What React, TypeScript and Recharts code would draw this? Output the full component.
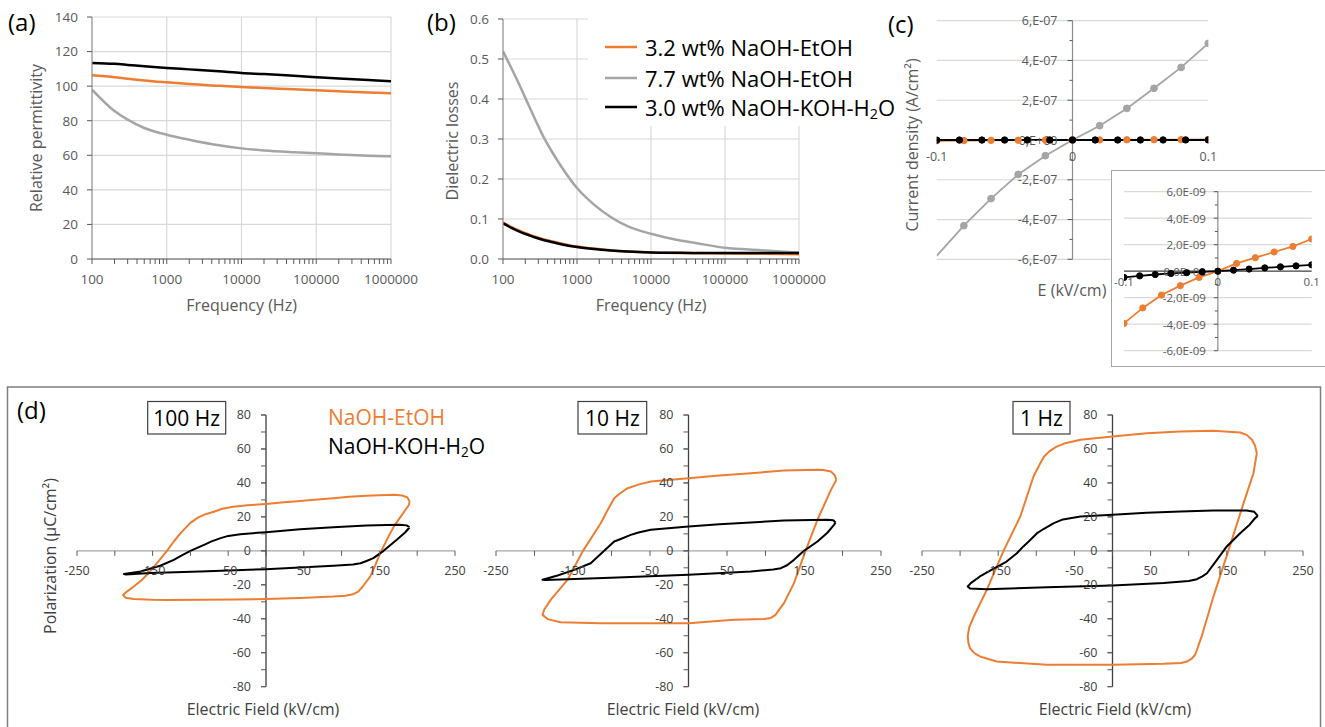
import React from 'react';
import { LineChart, Line, XAxis, YAxis, CartesianGrid, ReferenceLine, ReferenceDot } from 'recharts';

const FONT = "'Open Sans', 'DejaVu Sans', sans-serif";
const ORANGE = '#ED7D31';
const GRAY = '#A5A5A5';
const BLACK = '#000000';
const TICK = '#595959';
const TITLE = '#595959';
const GRID = '#D9D9D9';

// Series names
const seriesNames = ['3.2 wt% NaOH-EtOH', '7.7 wt% NaOH-EtOH', '3.0 wt% NaOH-KOH-H'];

// (a) relative permittivity vs frequency
const freqA = [100, 200, 300, 500, 1000, 2000, 5000, 10000, 20000, 50000, 100000, 200000, 500000, 1000000];
const permEtOH32 = [106.3, 105.2, 104.3, 103.3, 102.2, 101.2, 100.2, 99.5, 98.9, 98.2, 97.6, 97.0, 96.3, 95.9];
const permEtOH77 = [98.0, 85.6, 80.6, 75.8, 71.9, 69.0, 65.8, 64.0, 62.8, 61.8, 61.2, 60.5, 59.8, 59.4];
const permKOHH2O = [113.4, 112.9, 112.3, 111.5, 110.5, 109.7, 108.6, 107.6, 107.0, 106.0, 105.2, 104.4, 103.5, 102.8];
const permTicks = [0, 20, 40, 60, 80, 100, 120, 140];

// (b) dielectric losses vs frequency
const freqB = [100, 130, 170, 220, 280, 360, 470, 610, 1000, 1700, 2850, 4800, 10000, 22000, 40000, 100000, 300000, 1000000];
const lossEtOH32 = [0.091, 0.080, 0.070, 0.062, 0.055, 0.049, 0.044, 0.039, 0.031, 0.026, 0.022, 0.019, 0.0165, 0.015, 0.0145, 0.014, 0.013, 0.012];
const lossEtOH77 = [0.519, 0.477, 0.432, 0.386, 0.344, 0.302, 0.265, 0.232, 0.1775, 0.136, 0.105, 0.082, 0.063, 0.048, 0.040, 0.028, 0.022, 0.016];
const lossKOHH2O = [0.089, 0.078, 0.068, 0.060, 0.053, 0.047, 0.042, 0.037, 0.030, 0.025, 0.0215, 0.019, 0.0165, 0.0155, 0.015, 0.015, 0.015, 0.015];
const lossTicks = [0, 0.1, 0.2, 0.3, 0.4, 0.5, 0.6];

// frequency axis ticks (log scale, decades labelled)
const decades = [100, 1000, 10000, 100000, 1000000];
const freqTicks = [100, 1000, 10000, 100000]
  .flatMap((d) => [1, 2, 3, 4, 5, 6, 7, 8, 9].map((k) => k * d))
  .concat(1000000);

// (c) current density vs field
const fieldStep02 = [-0.1, -0.08, -0.06, -0.04, -0.02, 0, 0.02, 0.04, 0.06, 0.08, 0.1];
const fieldStep60 = [-0.1, -0.0833, -0.0667, -0.05, -0.0333, -0.0167, 0, 0.0167, 0.0333, 0.05, 0.0667, 0.0833, 0.1];
const jEtOH77 = [-5.83e-7, -4.31e-7, -2.95e-7, -1.73e-7, -0.79e-7, 0, 0.72e-7, 1.59e-7, 2.6e-7, 3.65e-7, 4.86e-7];
const jEtOH32 = [-3.94e-9, -2.77e-9, -1.8e-9, -1.09e-9, -0.47e-9, 0, 0.59e-9, 1.02e-9, 1.45e-9, 1.87e-9, 2.43e-9];
const jKOHH2O = [-0.47e-9, -0.35e-9, -0.25e-9, -0.17e-9, -0.11e-9, -0.05e-9, 0, 0.08e-9, 0.16e-9, 0.25e-9, 0.33e-9, 0.4e-9, 0.48e-9];

const cTickValues = [-6e-7, -4e-7, -2e-7, 0, 2e-7, 4e-7, 6e-7];
const cTickLabels = ['-6,E-07', '-4,E-07', '-2,E-07', '0,E+00', '2,E-07', '4,E-07', '6,E-07'];
const cMinorTicks = [-5e-7, -3e-7, -1e-7, 1e-7, 3e-7, 5e-7];
const insetTickValues = [-6e-9, -4e-9, -2e-9, 0, 2e-9, 4e-9, 6e-9];
const insetTickLabels = ['-6,0E-09', '-4,0E-09', '-2,0E-09', '0,0E+00', '2,0E-09', '4,0E-09', '6,0E-09'];
const insetMinorTicks = [-5e-9, -3e-9, -1e-9, 1e-9, 3e-9, 5e-9];
const fieldTickValues = [-0.1, 0, 0.1];
const fieldTickLabels = ['-0.1', '0', '0.1'];

// (d) P-E hysteresis loops [E (kV/cm), P (µC/cm²)]
const loopEtOH100Hz = [
  [190, 29], [187, 31.5], [180, 32.6], [170, 33], [150, 32.8], [133, 32.4], [110, 31.8], [89, 31], [60, 30], [45, 29.4],
  [20, 28.4], [0, 27.6], [-25, 26.8], [-43, 26], [-58, 24.8], [-69, 23], [-80, 21.6], [-90, 19.6], [-100, 16.5], [-113, 10.4],
  [-122, 5.5], [-131, 0], [-142, -6], [-153, -12], [-165, -17.5], [-175, -21], [-184, -24], [-189, -26], [-186, -27.6],
  [-175, -28.4], [-150, -28.8], [-131, -28.9], [-87, -28.8], [-40, -28.6], [0, -28.4], [45, -27.8], [89, -26.9], [105, -26.4],
  [115, -25.6], [122, -24], [128, -21], [138, -15], [145, -8], [151, -1.4], [162, 8.4], [170, 15], [178, 20], [185, 24.5],
  [189, 27], [190, 29],
];
const loopKOH100Hz = [
  [190, 13.9], [186, 15], [177, 15.4], [160, 15.2], [133, 14.9], [89, 13.9], [45, 12.7], [0, 11], [-34, 9.8], [-50, 8.8],
  [-60, 7.5], [-72, 5.6], [-82, 3.5], [-100, 0], [-112, -2.8], [-122, -5.3], [-140, -8.8], [-166, -12.2], [-188, -13.7],
  [-185, -13.9], [-153, -13.1], [-87, -12.2], [0, -10.8], [89, -8.8], [115, -8], [125, -7.3], [133, -6], [142, -4.3],
  [155.5, 0], [173, 6.5], [184, 10.8], [190, 13.9],
];
const loopEtOH10Hz = [
  [192, 41.8], [190, 44.5], [185, 46.7], [175, 47.6], [167.5, 47.7], [124, 47.3], [81, 45.7], [40, 44.3], [0, 42.8],
  [-49, 40.8], [-65, 39], [-79, 36.9], [-90, 33.5], [-96.5, 31], [-105, 24], [-114, 16.3], [-137, 0], [-157, -17],
  [-179, -28.9], [-187.5, -34.7], [-189.6, -37.7], [-183, -40.2], [-166, -42], [-114, -42.6], [0, -42.6], [59, -40.6],
  [98, -40.2], [107, -39.5], [113, -37.7], [118, -34.5], [124, -30.8], [137, -19], [152, 0], [167.5, 18.3], [185, 35.9],
  [192, 41.8],
];
const loopKOH10Hz = [
  [191, 16.7], [188, 18], [180.5, 18.3], [160, 18.2], [124, 17.9], [81, 16.7], [40, 15.6], [0, 14.3], [-49, 12.4],
  [-65, 10.8], [-75, 9.4], [-88, 7], [-96.5, 5.5], [-109.5, 0], [-127, -7.3], [-148.5, -11.2], [-170, -14.5],
  [-189.6, -17], [-186, -17.2], [-157, -16.7], [-92, -15.7], [0, -14.1], [81, -12.2], [110, -11], [120, -10.2],
  [128, -8.5], [137, -5.3], [150, 0], [167.5, 5.5], [180, 10.5], [189, 15.3], [191, 16.7],
];
const loopEtOH1Hz = [
  [189.4, 57.5], [187, 62], [183, 65.4], [176, 68.3], [167.5, 69.7], [132.5, 70.7], [89, 70.3], [45, 69.3], [0, 67.3],
  [-42, 65.4], [-62, 63.4], [-74, 61.2], [-83, 58.6], [-90, 55.4], [-96, 50.6], [-103.7, 43.8], [-121, 20.2], [-143, 0],
  [-165, -23], [-182, -38.7], [-188, -45], [-190, -50.4], [-189, -54.5], [-187, -57.3], [-182, -60], [-174, -62.2],
  [-152, -65.2], [-86, -67.1], [0, -67.1], [67, -66.5], [90, -66], [97.5, -65.2], [104, -63.5], [108.5, -61.2],
  [117, -50.4], [132.5, -26.9], [152, 0], [172, 28.1], [185, 45.7], [189.4, 57.5],
];
const loopKOH1Hz = [
  [190.7, 20.6], [186, 23], [176, 23.8], [132.5, 23.8], [89, 23.2], [45, 22.4], [0, 21.2], [-42, 20.2], [-65, 18.5],
  [-77, 16.3], [-90, 13], [-99, 10.4], [-110, 5.5], [-117, 2.6], [-125.5, -1.4], [-139, -6.3], [-160, -11.5],
  [-174, -15.1], [-186, -19], [-190, -21], [-187, -22.2], [-165, -22.6], [-86, -21.4], [0, -20.4], [67, -19],
  [100, -17.8], [110.7, -16.7], [118, -15], [124, -13.2], [137, -5.3], [150, 2.6], [167.5, 10.4], [180, 15.4],
  [187, 19.2], [190.7, 20.6],
];
const fieldTicksD = [-250, -200, -150, -100, -50, 0, 50, 100, 150, 200, 250];
const fieldLabelsD = [-250, -150, -50, 50, 150, 250];
const polTicksD = [-80, -70, -60, -50, -40, -30, -20, -10, 0, 10, 20, 30, 40, 50, 60, 70, 80];
const polLabelsD = [-80, -60, -40, -20, 0, 20, 40, 60, 80];

const toPts = (arr: number[][]) => arr.map(([e, p]) => ({ e, p }));

const dataA = freqA.map((f, i) => ({ f, o: permEtOH32[i], g: permEtOH77[i], k: permKOHH2O[i] }));
const dataB = freqB.map((f, i) => ({ f, o: lossEtOH32[i], g: lossEtOH77[i], k: lossKOHH2O[i] }));

function FreqTick(props: any) {
  const { x, y, payload } = props;
  const isDecade = decades.includes(payload.value);
  return (
    <g>
      <line x1={x} x2={x} y1={y} y2={y + 5} stroke="#595959" strokeWidth={1} />
      {isDecade && (
        <text x={x} y={y + 20} textAnchor="middle" dominantBaseline="central" fill={TICK} fontSize={13.5} fontFamily={FONT}>
          {payload.value}
        </text>
      )}
    </g>
  );
}

function FreqChart({ left, width, plotLeft, plotRight, top, data, yDomain, yTicks, fmt }: any) {
  return (
    <div style={{ position: 'absolute', left, top: 0 }}>
      <LineChart width={width} height={320} data={data} margin={{ top, right: width - plotRight, bottom: 0, left: 0 }}>
        <CartesianGrid vertical={false} stroke={GRID} strokeWidth={1.2} />
        {decades.slice(1).map((v) => (
          <ReferenceLine key={v} x={v} stroke={GRID} strokeWidth={1.2} />
        ))}
        <XAxis
          dataKey="f"
          type="number"
          scale="log"
          domain={[100, 1000000]}
          ticks={freqTicks}
          interval={0}
          height={61}
          tickSize={0}
          tickMargin={0}
          tickLine={false}
          axisLine={{ stroke: '#595959', strokeWidth: 1.2 }}
          tick={(p: any) => <FreqTick {...p} />}
          allowDataOverflow
        />
        <YAxis
          type="number"
          domain={yDomain}
          ticks={yTicks}
          interval={0}
          width={plotLeft}
          tickSize={5}
          tickMargin={9}
          tickFormatter={fmt}
          axisLine={{ stroke: '#8c8c8c', strokeWidth: 1.2 }}
          tickLine={{ stroke: '#595959' }}
          tick={{ fill: TICK, fontSize: 13.5, fontFamily: FONT }}
        />
        <Line dataKey="g" type="monotone" stroke={GRAY} strokeWidth={2.5} dot={false} isAnimationActive={false} />
        <Line dataKey="o" type="monotone" stroke={ORANGE} strokeWidth={2.5} dot={false} isAnimationActive={false} />
        <Line dataKey="k" type="monotone" stroke={BLACK} strokeWidth={2.5} dot={false} isAnimationActive={false} />
      </LineChart>
    </div>
  );
}

function yTickDots(values: number[], labels: string[] | null, len: number, gap: number, size: number, color: string) {
  return values.map((v, i) => (
    <ReferenceDot
      key={'yt' + v + len}
      x={0}
      y={v}
      ifOverflow="visible"
      shape={(p: any) => (
        <g>
          <line x1={p.cx - len} x2={p.cx} y1={p.cy} y2={p.cy} stroke="#595959" strokeWidth={1} />
          {labels && (
            <text x={p.cx - gap} y={p.cy} textAnchor="end" dominantBaseline="central" fill={color} fontSize={size} fontFamily={FONT}>
              {labels[i]}
            </text>
          )}
        </g>
      )}
    />
  ));
}

function xTickDots(values: number[], labels: string[], dy: number, size: number, color: string) {
  return values.map((v, i) => (
    <ReferenceDot
      key={'xt' + v}
      x={v}
      y={0}
      ifOverflow="visible"
      shape={(p: any) => (
        <text x={p.cx} y={p.cy + dy} textAnchor="middle" dominantBaseline="central" fill={color} fontSize={size} fontFamily={FONT}>
          {labels[i]}
        </text>
      )}
    />
  ));
}

const dotFn = (color: string, r: number, skipFirst: boolean) => (p: any) =>
  skipFirst && p.index === 0 ? (
    <g key={'d' + p.index} />
  ) : (
    <circle key={'d' + p.index} cx={p.cx} cy={p.cy} r={r} fill={color} stroke={color} strokeWidth={1} />
  );

function CurrentChart() {
  const gray = fieldStep02.map((e, i) => ({ e, j: jEtOH77[i] }));
  const orange = fieldStep02.map((e, i) => ({ e, j: jEtOH32[i] }));
  const black = fieldStep60.map((e, i) => ({ e, j: jKOHH2O[i] }));
  return (
    <div style={{ position: 'absolute', left: 900, top: 0 }}>
      <LineChart width={330} height={290} margin={{ top: 20.7, right: 21.7, bottom: 30.7, left: 36.7 }}>
        <XAxis type="number" dataKey="e" domain={[-0.1, 0.1]} hide allowDataOverflow />
        <YAxis type="number" dataKey="j" domain={[-6e-7, 6e-7]} hide allowDataOverflow />
        {cTickValues.filter((v) => v !== 0).map((v) => (
          <ReferenceLine key={'g' + v} y={v} stroke={GRID} strokeWidth={1.2} />
        ))}
        <ReferenceLine x={0} stroke="#8c8c8c" strokeWidth={1.2} />
        <ReferenceLine y={0} stroke="#404040" strokeWidth={1.2} />
        {yTickDots(cMinorTicks, null, 3, 0, 0, TICK)}
        {yTickDots(cTickValues, cTickLabels, 5, 15, 12.5, TICK)}
        {xTickDots(fieldTickValues, fieldTickLabels, 16, 12.5, TICK)}
        <Line data={gray} dataKey="j" type="linear" stroke={GRAY} strokeWidth={1.8} dot={dotFn(GRAY, 3.4, true)} isAnimationActive={false} />
        <Line data={orange} dataKey="j" type="linear" stroke={ORANGE} strokeWidth={1.8} dot={dotFn(ORANGE, 3.2, false)} isAnimationActive={false} />
        <Line data={black} dataKey="j" type="linear" stroke={BLACK} strokeWidth={2} dot={dotFn(BLACK, 3.2, false)} isAnimationActive={false} />
      </LineChart>
    </div>
  );
}

function InsetChart() {
  const orange = fieldStep02.map((e, i) => ({ e, j: jEtOH32[i] }));
  const black = fieldStep60.map((e, i) => ({ e, j: jKOHH2O[i] }));
  return (
    <div
      style={{
        position: 'absolute',
        left: 1111,
        top: 170,
        width: 220,
        height: 197,
        boxSizing: 'border-box',
        background: '#fff',
        border: '1.3px solid #a6a6a6',
      }}
    >
      <div style={{ position: 'absolute', left: -1, top: -1 }}>
        <LineChart width={214} height={197} margin={{ top: 21.7, right: 13.3, bottom: 16.3, left: 13 }}>
          <XAxis type="number" dataKey="e" domain={[-0.1, 0.1]} hide allowDataOverflow />
          <YAxis type="number" dataKey="j" domain={[-6e-9, 6e-9]} hide allowDataOverflow />
          {insetTickValues.filter((v) => v !== 0).map((v) => (
            <ReferenceLine key={'g' + v} y={v} stroke={GRID} strokeWidth={1.2} />
          ))}
          <ReferenceLine x={0} stroke="#8c8c8c" strokeWidth={1.2} />
          <ReferenceLine y={0} stroke="#404040" strokeWidth={1.2} />
          {yTickDots(insetMinorTicks, null, 3, 0, 0, TICK)}
          {yTickDots(insetTickValues, insetTickLabels, 4, 12, 11.5, TICK)}
          {xTickDots(fieldTickValues, fieldTickLabels, 10, 11.5, TICK)}
          <Line data={orange} dataKey="j" type="linear" stroke={ORANGE} strokeWidth={1.8} dot={dotFn(ORANGE, 3.1, false)} isAnimationActive={false} />
          <Line data={black} dataKey="j" type="linear" stroke={BLACK} strokeWidth={1.8} dot={dotFn(BLACK, 3.1, false)} isAnimationActive={false} />
        </LineChart>
      </div>
    </div>
  );
}

function LoopChart({ px0, px1, etoh, koh }: any) {
  const pyTop = 415;
  const pyBot = 686.7;
  const padX = 40;
  const padY = 22;
  const w = px1 - px0 + 2 * padX;
  const h = pyBot - pyTop + 2 * padY;
  return (
    <div style={{ position: 'absolute', left: px0 - padX, top: pyTop - padY }}>
      <LineChart width={w} height={h} margin={{ top: padY, right: padX, bottom: padY, left: padX }}>
        <XAxis type="number" dataKey="e" domain={[-250, 250]} hide allowDataOverflow />
        <YAxis type="number" dataKey="p" domain={[-80, 80]} hide allowDataOverflow />
        <ReferenceLine y={0} stroke="#a6a6a6" strokeWidth={1.3} />
        <ReferenceLine x={0} stroke="#404040" strokeWidth={1.3} />
        {fieldTicksD.map((v) => (
          <ReferenceDot
            key={'xm' + v}
            x={v}
            y={0}
            ifOverflow="visible"
            shape={(p: any) => <line x1={p.cx} x2={p.cx} y1={p.cy} y2={p.cy + 5} stroke="#595959" strokeWidth={1} />}
          />
        ))}
        {xTickDots(fieldLabelsD, fieldLabelsD.map(String), 20, 12.5, '#404040')}
        {yTickDots(polTicksD, null, 5, 0, 0, TICK)}
        {yTickDots(polLabelsD, polLabelsD.map(String), 5, 15, 12.5, '#404040')}
        <Line data={toPts(etoh)} dataKey="p" type="linear" stroke={ORANGE} strokeWidth={2} dot={false} isAnimationActive={false} strokeLinejoin="round" />
        <Line data={toPts(koh)} dataKey="p" type="linear" stroke={BLACK} strokeWidth={2} dot={false} isAnimationActive={false} strokeLinejoin="round" />
      </LineChart>
    </div>
  );
}

function H2O({ size }: { size: number }) {
  return (
    <>
      <tspan fontSize={size * 0.65} dy={size * 0.25}>2</tspan>
      <tspan dy={-size * 0.25}>O</tspan>
    </>
  );
}

function Overlay() {
  const t = { fontFamily: FONT } as const;
  const legendRows = [
    { y: 47, color: ORANGE },
    { y: 78, color: GRAY },
    { y: 107, color: BLACK },
  ];
  return (
    <svg width={1325} height={727} style={{ position: 'absolute', left: 0, top: 0, pointerEvents: 'none' }}>
      {/* (b) legend box covers the grid behind it */}
      <rect x={588} y={16} width={300} height={110} fill="#fff" />
      {legendRows.map((r, i) => (
        <g key={i}>
          <line x1={605} x2={637} y1={r.y} y2={r.y} stroke={r.color} strokeWidth={2.5} />
          <text x={645} y={r.y} dominantBaseline="central" fontSize={22} fill="#000" {...t}>
            {seriesNames[i]}
            {i === 2 && <H2O size={22} />}
          </text>
        </g>
      ))}

      {/* panel letters */}
      <text x={8} y={31} fontSize={24} fill="#000" {...t}>(a)</text>
      <text x={427} y={31} fontSize={24} fill="#000" {...t}>(b)</text>
      <text x={888} y={33} fontSize={24} fill="#000" {...t}>(c)</text>
      <text x={17} y={419} fontSize={24} fill="#000" {...t}>(d)</text>

      {/* (a) titles */}
      <text transform="translate(36,138) rotate(-90)" textAnchor="middle" dominantBaseline="central" fontSize={16} fill={TITLE} {...t}>
        Relative permittivity
      </text>
      <text x={241.5} y={305} textAnchor="middle" dominantBaseline="central" fontSize={16} fill={TITLE} {...t}>
        Frequency (Hz)
      </text>

      {/* (b) titles */}
      <text transform="translate(452,141) rotate(-90)" textAnchor="middle" dominantBaseline="central" fontSize={16} fill={TITLE} {...t}>
        Dielectric losses
      </text>
      <text x={651} y={305} textAnchor="middle" dominantBaseline="central" fontSize={16} fill={TITLE} {...t}>
        Frequency (Hz)
      </text>

      {/* (c) titles */}
      <text transform="translate(912,145) rotate(-90)" textAnchor="middle" dominantBaseline="central" fontSize={16} fill={TITLE} {...t}>
        Current density (A/cm²)
      </text>
      <text x={1072} y={290} textAnchor="middle" dominantBaseline="central" fontSize={16} fill={TITLE} {...t}>
        E (kV/cm)
      </text>

      {/* (d) frame, titles, labels */}
      <rect x={7.5} y={387} width={1313} height={360} fill="none" stroke="#7f7f7f" strokeWidth={1.5} />
      <text transform="translate(50,556) rotate(-90)" textAnchor="middle" dominantBaseline="central" fontSize={16} fill="#404040" {...t}>
        Polarization (µC/cm²)
      </text>
      {[263, 683, 1115].map((x) => (
        <text key={x} x={x} y={709} textAnchor="middle" dominantBaseline="central" fontSize={16} fill="#404040" {...t}>
          Electric Field (kV/cm)
        </text>
      ))}
      {[
        { x: 147.7, w: 78, label: '100 Hz' },
        { x: 578, w: 68.7, label: '10 Hz' },
        { x: 1013, w: 57, label: '1 Hz' },
      ].map((b) => (
        <g key={b.label}>
          <rect x={b.x} y={401.5} width={b.w} height={32.5} fill="#fff" stroke="#404040" strokeWidth={1.2} />
          <text x={b.x + b.w / 2} y={418} textAnchor="middle" dominantBaseline="central" fontSize={21} fill="#000" {...t}>
            {b.label}
          </text>
        </g>
      ))}
      <text x={328} y={417} dominantBaseline="central" fontSize={21} fill={ORANGE} {...t}>
        NaOH-EtOH
      </text>
      <text x={328} y={446} dominantBaseline="central" fontSize={21} fill="#000" {...t}>
        NaOH-KOH-H
        <H2O size={21} />
      </text>
    </svg>
  );
}

export default function App() {
  return (
    <div style={{ position: 'absolute', left: 0, top: 0, width: 1325, height: 727, overflow: 'hidden', background: '#fff' }}>
      <FreqChart left={0} width={420} plotLeft={92} plotRight={391} top={17} data={dataA} yDomain={[0, 140]} yTicks={permTicks} />
      <FreqChart
        left={420}
        width={440}
        plotLeft={83}
        plotRight={379}
        top={19}
        data={dataB}
        yDomain={[0, 0.6]}
        yTicks={lossTicks}
        fmt={(v: number) => v.toFixed(1)}
      />
      <CurrentChart />
      <LoopChart px0={76.7} px1={454.7} etoh={loopEtOH100Hz} koh={loopKOH100Hz} />
      <LoopChart px0={495.7} px1={880.7} etoh={loopEtOH10Hz} koh={loopKOH10Hz} />
      <LoopChart px0={922.3} px1={1303.3} etoh={loopEtOH1Hz} koh={loopKOH1Hz} />
      <InsetChart />
      <Overlay />
    </div>
  );
}
